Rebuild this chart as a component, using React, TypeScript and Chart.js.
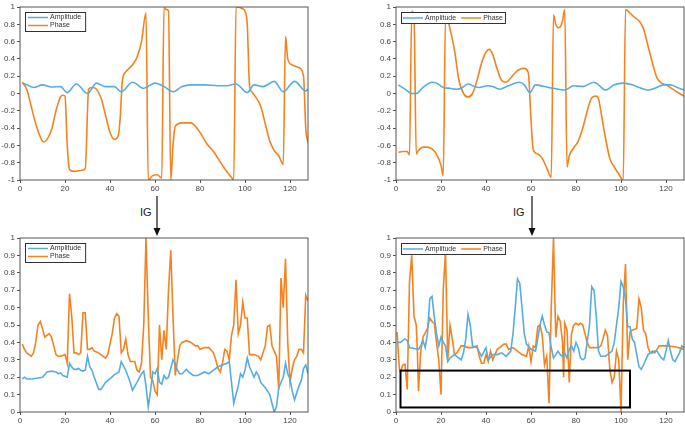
import { useEffect, useRef } from "react";
import { Chart, registerables } from "chart.js";

Chart.register(...registerables);

const BLUE = "#55ade2";
const ORANGE = "#f5821f";
const FONT = "'Liberation Sans', Arial, sans-serif";

type Pt = [number, number];

const xTicks = [0, 20, 40, 60, 80, 100, 120];

// top left: raw CSI
const tlAmplitude: Pt[] = [
  [1, 0.12], [3, 0.1], [6, 0.07], [10, 0.1], [14, 0.075], [18, 0.08], [21, 0.01], [25, 0.11], [30, 0.0],
  [34, 0.12], [38, 0.08], [42, 0.08], [45, 0.02], [50, 0.13], [55, 0.06], [60, 0.12], [64, 0.08], [68, 0.02],
  [72, 0.08], [76, 0.1], [82, 0.1], [88, 0.09], [92, 0.09], [96, 0.11], [101, 0.01], [104, 0.1], [108, 0.08],
  [113, 0.14], [117, 0.02], [122, 0.14], [127, 0.03], [128, 0.05],
];
const tlPhase: Pt[] = [
  [1, 0.13], [3, 0.05], [5, -0.15], [7, -0.35], [9, -0.5], [10.5, -0.56], [12, -0.53], [14, -0.42], [16, -0.2],
  [18, -0.04], [19, -0.02], [20, -0.03], [21, -0.6], [22, -0.88], [24, -0.9], [27, -0.89], [29, -0.87],
  [30.5, 0.05], [32, 0.07], [34, 0.05], [36, -0.05], [38, -0.25], [40, -0.45], [42, -0.53], [43.5, -0.5],
  [44.5, -0.3], [45.5, 0.15], [47, 0.25], [50, 0.33], [52, 0.42], [54, 0.6], [56, 0.93], [57, -1.0], [59, -0.95],
  [61, -0.94], [63, -0.98], [64, 1.0], [65, 0.97], [66, 0.96], [67, -1.0], [68, -0.6], [69, -0.38], [72, -0.34],
  [76, -0.34], [78, -0.38], [80, -0.45], [83, -0.58], [86, -0.67], [88, -0.75], [91, -0.87], [94, -0.97],
  [95, -1.0], [96, 1.0], [99, 0.98], [100, 0.95], [101, 0.8], [102, 0.1], [103, 0.02], [105, -0.05],
  [107, -0.15], [109, -0.35], [111, -0.55], [113, -0.66], [115, -0.72], [117, -0.82], [118, 0.66], [119, 0.4],
  [121, 0.33], [124, 0.3], [126, 0.2], [127, -0.4], [128, -0.57],
];

// top right: raw CSI
const trAmplitude: Pt[] = [
  [1, 0.1], [4, 0.05], [7, 0.0], [9, 0.0], [12, 0.07], [16, 0.13], [18, 0.12], [21, 0.07], [24, 0.06], [27, 0.05],
  [29, 0.06], [32, 0.11], [35, 0.08], [37, 0.07], [41, 0.09], [43, 0.08], [46, 0.05], [50, 0.09], [55, 0.13],
  [57, 0.1], [59.5, 0.01], [62, 0.1], [66, 0.08], [70, 0.06], [75, 0.04], [79, 0.09], [83, 0.08], [88, 0.13],
  [90, 0.1], [93, 0.04], [97, 0.1], [101, 0.12], [105, 0.1], [108, 0.07], [112, 0.04], [115, 0.06], [119, 0.1],
  [122, 0.1], [125, 0.07], [128, 0.04],
];
const trPhase: Pt[] = [
  [1, -0.68], [3, -0.67], [5, -0.67], [6, -0.71], [7, 0.95], [8, 0.9], [9, -0.7], [10, -0.66], [12, -0.62],
  [14, -0.62], [16, -0.64], [18, -0.7], [20, -0.83], [21, -0.95], [22, 0.88], [23, 0.85], [24, 0.75], [26, 0.5],
  [28, 0.15], [30, 0.0], [32, -0.04], [34, 0.0], [36, 0.15], [38, 0.35], [40, 0.48], [41.5, 0.51], [43, 0.45],
  [45, 0.28], [47, 0.15], [49, 0.13], [51, 0.18], [53, 0.24], [55, 0.28], [57, 0.29], [58.5, 0.26], [59, 0.2],
  [60, -0.3], [61, -0.65], [63, -0.7], [65, -0.75], [67, -0.86], [69, -0.97], [70, 0.91], [71, 0.8], [72, 0.76],
  [73, 0.77], [74, 0.84], [75, 0.97], [76, -0.85], [77, -0.72], [79, -0.63], [81, -0.55], [83, -0.4], [85, -0.2],
  [87, -0.05], [89, -0.03], [90, -0.06], [91, -0.2], [93, -0.5], [95, -0.75], [97, -0.85], [99, -0.93],
  [101, -1.0], [102, 0.97], [104, 0.93], [106, 0.88], [108, 0.84], [110, 0.75], [112, 0.55], [114, 0.35],
  [116, 0.18], [118, 0.12], [120, 0.1], [123, 0.05], [126, 0.0], [128, -0.03],
];

// bottom left: IG attribution
const blAmplitude: Pt[] = [
  [1, 0.19], [2, 0.2], [3, 0.19], [5, 0.19], [8, 0.195], [10, 0.2], [12, 0.23], [14, 0.235], [16, 0.23], [17, 0.22],
  [18, 0.225], [19, 0.21], [20, 0.205], [21, 0.2], [22, 0.28], [23, 0.26], [24, 0.245], [25, 0.245], [26, 0.25],
  [27, 0.24], [28, 0.235], [29, 0.24], [30, 0.32], [31, 0.26], [32, 0.24], [33, 0.2], [35, 0.13], [36, 0.13],
  [38, 0.17], [40, 0.19], [42, 0.215], [44, 0.23], [45, 0.29], [47, 0.24], [49, 0.17], [50, 0.125], [52, 0.17],
  [54, 0.22], [55, 0.235], [56, 0.15], [57, 0.03], [58, 0.12], [59, 0.23], [60, 0.22], [61, 0.25], [62, 0.17],
  [63, 0.16], [64, 0.21], [65, 0.19], [66, 0.2], [68, 0.3], [69, 0.28], [70, 0.24], [71, 0.22], [72, 0.22],
  [74, 0.245], [75, 0.23], [77, 0.21], [79, 0.21], [82, 0.23], [84, 0.22], [86, 0.24], [88, 0.26], [90, 0.27],
  [92, 0.28], [93, 0.29], [94, 0.17], [95, 0.05], [97, 0.15], [98, 0.22], [99, 0.2], [100, 0.24], [101, 0.31],
  [102, 0.26], [103, 0.23], [104, 0.2], [105, 0.23], [106, 0.21], [107, 0.17], [109, 0.14], [111, 0.1],
  [113, 0.0], [114, 0.03], [115, 0.14], [117, 0.2], [118, 0.28], [119, 0.22], [120, 0.19], [121, 0.12],
  [122, 0.07], [124, 0.15], [125, 0.18], [126, 0.25], [127, 0.27], [128, 0.22],
];
const blPhase: Pt[] = [
  [1, 0.39], [2, 0.36], [3, 0.34], [4, 0.33], [5, 0.32], [6, 0.34], [7, 0.4], [8, 0.5], [9, 0.52], [10, 0.48],
  [11, 0.43], [12, 0.44], [13, 0.45], [14, 0.43], [15, 0.38], [16, 0.33], [17, 0.32], [18, 0.32], [20, 0.33],
  [21, 0.28], [22, 0.68], [23, 0.55], [24, 0.34], [25, 0.34], [26, 0.33], [27, 0.34], [28, 0.57], [29, 0.57],
  [30, 0.36], [31, 0.36], [32, 0.37], [33, 0.35], [35, 0.34], [37, 0.32], [38, 0.31], [39, 0.33], [41, 0.45],
  [42, 0.54], [43, 0.565], [44, 0.55], [45, 0.34], [46, 0.36], [47, 0.42], [48, 0.33], [49, 0.29], [50, 0.29],
  [51, 0.29], [52, 0.24], [53, 0.23], [54, 0.28], [55, 0.5], [56, 1.0], [57, 0.55], [58, 0.2], [59, 0.18],
  [60, 0.12], [61, 0.1], [62, 0.5], [63, 0.3], [64, 0.47], [65, 0.36], [66, 0.7], [67, 0.93], [68, 0.55],
  [69, 0.21], [70, 0.3], [71, 0.38], [72, 0.4], [74, 0.41], [76, 0.4], [78, 0.38], [79, 0.38], [80, 0.36],
  [82, 0.37], [84, 0.37], [86, 0.34], [87, 0.3], [88, 0.25], [89, 0.23], [90, 0.28], [91, 0.36], [92, 0.35],
  [93, 0.3], [94, 0.44], [95, 0.5], [96, 0.76], [97, 0.45], [98, 0.5], [99, 0.63], [100, 0.54], [101, 0.54],
  [102, 0.33], [104, 0.33], [106, 0.32], [107, 0.3], [109, 0.38], [110, 0.49], [111, 0.5], [112, 0.38],
  [113, 0.35], [114, 0.32], [115, 0.13], [116, 0.77], [117, 0.6], [118, 0.88], [119, 0.4], [120, 0.17],
  [121, 0.25], [122, 0.3], [123, 0.32], [124, 0.36], [125, 0.36], [126, 0.34], [127, 0.67], [128, 0.64],
];

// bottom right: IG attribution
const brAmplitude: Pt[] = [
  [1, 0.4], [2, 0.4], [3, 0.41], [4, 0.42], [5, 0.41], [6, 0.37], [8, 0.365], [10, 0.36], [11, 0.38], [12, 0.41],
  [13, 0.37], [14, 0.45], [15, 0.65], [16, 0.665], [17, 0.55], [18, 0.45], [19, 0.38], [20, 0.43], [21, 0.4],
  [22, 0.38], [23, 0.29], [24, 0.31], [26, 0.33], [28, 0.31], [29, 0.3], [30, 0.34], [31, 0.42], [32, 0.56],
  [33, 0.5], [34, 0.38], [36, 0.37], [38, 0.32], [40, 0.37], [41, 0.3], [43, 0.33], [45, 0.33], [47, 0.34],
  [49, 0.32], [51, 0.35], [52, 0.45], [53, 0.6], [54, 0.765], [55, 0.74], [56, 0.6], [57, 0.45], [58, 0.39],
  [60, 0.36], [62, 0.35], [63, 0.42], [64, 0.5], [65, 0.55], [66, 0.5], [67, 0.46], [68, 0.455], [69, 0.37],
  [70, 0.31], [71, 0.33], [72, 0.35], [73, 0.33], [74, 0.32], [75, 0.34], [76, 0.31], [77, 0.36], [78, 0.38],
  [79, 0.35], [80, 0.4], [81, 0.37], [82, 0.31], [83, 0.3], [84, 0.31], [86, 0.5], [87, 0.72], [88, 0.7],
  [89, 0.55], [90, 0.35], [91, 0.32], [93, 0.32], [94, 0.33], [96, 0.35], [97, 0.4], [99, 0.6], [100, 0.75],
  [101, 0.72], [102, 0.65], [103, 0.49], [104, 0.49], [105, 0.42], [106, 0.4], [107, 0.33], [108, 0.26],
  [109, 0.245], [110, 0.27], [112, 0.33], [113, 0.34], [114, 0.34], [115, 0.35], [116, 0.35], [117, 0.33],
  [118, 0.31], [119, 0.3], [120, 0.35], [121, 0.41], [122, 0.35], [123, 0.3], [124, 0.29], [126, 0.34],
  [127, 0.38], [128, 0.37],
];
const brPhase: Pt[] = [
  [0.5, 0.46], [1, 0.35], [1.5, 0.25], [2, 0.23], [3, 0.27], [4, 0.275], [4.5, 0.2], [5, 0.13], [6, 0.75],
  [7, 0.9], [8, 0.55], [9, 0.5], [9.5, 0.35], [10, 0.12], [11, 0.35], [12, 0.43], [14, 0.48], [15, 0.54],
  [16, 0.52], [17, 0.51], [18, 0.4], [19, 0.3], [20, 0.1], [21, 0.7], [22, 0.92], [23, 0.3], [24, 0.5],
  [25, 0.42], [26, 0.33], [27, 0.34], [29, 0.38], [30, 0.38], [32, 0.37], [34, 0.37], [36, 0.38], [37, 0.32],
  [38, 0.28], [39, 0.28], [40, 0.33], [41, 0.29], [42, 0.35], [43, 0.3], [45, 0.36], [47, 0.38], [48, 0.39],
  [49, 0.39], [50, 0.36], [52, 0.37], [54, 0.35], [56, 0.33], [58, 0.32], [59, 0.38], [60, 0.29], [61, 0.38],
  [62, 0.37], [63, 0.49], [64, 0.5], [65, 0.44], [66, 0.27], [67, 0.32], [68, 0.05], [69, 0.6], [70, 1.0],
  [71, 0.43], [72, 0.55], [73, 0.52], [74, 0.4], [74.5, 0.2], [75, 0.51], [76, 0.47], [77, 0.17], [78, 0.45],
  [79, 0.5], [80, 0.51], [81, 0.5], [82, 0.51], [83, 0.5], [84, 0.45], [85, 0.4], [86, 0.37], [88, 0.37],
  [90, 0.37], [91, 0.38], [92, 0.42], [93, 0.47], [94, 0.44], [95, 0.25], [96, 0.17], [97, 0.2], [98, 0.35],
  [99, 0.3], [100, 0.0], [101, 0.62], [102, 0.85], [103, 0.3], [104, 0.46], [105, 0.47], [107, 0.48],
  [108, 0.65], [109, 0.6], [110, 0.47], [111, 0.45], [112, 0.37], [113, 0.34], [114, 0.35], [115, 0.34],
  [116, 0.36], [117, 0.38], [120, 0.38], [124, 0.375], [128, 0.36],
];

// highlighted region in the bottom right panel, in data units
const boxX = [2, 104];
const boxY = [0.026, 0.238];

const toXY = (pts: Pt[]) => pts.map(([x, y]) => ({ x, y }));
const fmt = (v: number | string) => String(Math.round(Number(v) * 10) / 10);

const framePlugin = {
  id: "frame",
  afterDatasetsDraw(chart: any) {
    const { ctx, chartArea: a } = chart;
    ctx.save();
    ctx.strokeStyle = "#555";
    ctx.lineWidth = 1;
    ctx.strokeRect(a.left, a.top, a.right - a.left, a.bottom - a.top);
    ctx.restore();
  },
};

const boxPlugin = {
  id: "markBox",
  afterDatasetsDraw(chart: any, _args: any, opts: any) {
    if (!opts || !opts.x) return;
    const { ctx, scales } = chart;
    const x0 = scales.x.getPixelForValue(opts.x[0]);
    const x1 = scales.x.getPixelForValue(opts.x[1]);
    const y0 = scales.y.getPixelForValue(opts.y[1]);
    const y1 = scales.y.getPixelForValue(opts.y[0]);
    ctx.save();
    ctx.strokeStyle = "#000";
    ctx.lineWidth = 2;
    ctx.strokeRect(x0, y0, x1 - x0, y1 - y0);
    ctx.restore();
  },
};

// boxed legend in the upper left corner of the plot area
const legendPlugin = {
  id: "boxLegend",
  afterDraw(chart: any, _args: any, opts: any) {
    const { ctx, chartArea: a } = chart;
    const ds = chart.data.datasets;
    const x0 = a.left + 5;
    const y0 = a.top + 5;
    ctx.save();
    ctx.font = `7px ${FONT}`;
    ctx.textBaseline = "middle";
    const items: { lx: number; ly: number; d: any }[] = [];
    let cx = x0 + 2;
    let maxW = 0;
    ds.forEach((d: any, i: number) => {
      const tw = ctx.measureText(d.label).width;
      if (opts.horizontal) {
        items.push({ lx: cx, ly: y0 + 6, d });
        cx += 20 + 2 + tw + 5;
      } else {
        items.push({ lx: x0 + 3, ly: y0 + 5.5 + i * 8, d });
        maxW = Math.max(maxW, 3 + 20 + 2 + tw + 4);
      }
    });
    const w = opts.horizontal ? cx - x0 - 3 : maxW;
    const h = opts.horizontal ? 11 : 19;
    ctx.fillStyle = "#fff";
    ctx.fillRect(x0, y0, w, h);
    ctx.strokeStyle = "#333";
    ctx.lineWidth = 1;
    ctx.strokeRect(x0 + 0.5, y0 + 0.5, w, h);
    items.forEach(({ lx, ly, d }) => {
      ctx.strokeStyle = d.borderColor;
      ctx.lineWidth = 1.5;
      ctx.beginPath();
      ctx.moveTo(lx, ly);
      ctx.lineTo(lx + 20, ly);
      ctx.stroke();
      ctx.fillStyle = "#333";
      ctx.fillText(d.label, lx + 22, ly);
    });
    ctx.restore();
  },
};

type PanelProps = {
  amplitude: Pt[];
  phase: Pt[];
  yMin: number;
  yStep: number;
  smooth: boolean;
  horizontal: boolean;
  padRight: number;
  box?: boolean;
  left: number;
  top: number;
  width: number;
  height: number;
};

function Panel(p: PanelProps) {
  const ref = useRef<HTMLCanvasElement>(null);

  useEffect(() => {
    if (!ref.current) return;
    const line = (label: string, pts: Pt[], color: string) => ({
      label,
      data: toXY(pts),
      borderColor: color,
      backgroundColor: color,
      borderWidth: 1.6,
      pointRadius: 0,
      tension: p.smooth ? 0.4 : 0,
      cubicInterpolationMode: p.smooth ? ("monotone" as const) : ("default" as const),
    });
    const tickFont = { family: FONT, size: 8 };
    const chart = new Chart(ref.current, {
      type: "line",
      data: {
        datasets: [line("Amplitude", p.amplitude, BLUE), line("Phase", p.phase, ORANGE)],
      },
      options: {
        animation: false,
        responsive: false,
        layout: { padding: { top: 7, right: p.padRight, left: 0, bottom: 0 } },
        plugins: {
          legend: { display: false },
          tooltip: { enabled: false },
          boxLegend: { horizontal: p.horizontal },
          markBox: p.box ? { x: boxX, y: boxY } : {},
        } as any,
        scales: {
          x: {
            type: "linear",
            min: 0,
            max: 128,
            afterFit: (s: any) => { s.height = 15; },
            afterBuildTicks: (s: any) => { s.ticks = xTicks.map((value) => ({ value })); },
            ticks: { color: "#444", font: tickFont, padding: 1, maxRotation: 0, autoSkip: false },
            grid: { drawOnChartArea: false, tickLength: 3, color: "#555" },
            border: { display: false },
          },
          y: {
            min: p.yMin,
            max: 1,
            afterFit: (s: any) => { s.width = 20; },
            ticks: { stepSize: p.yStep, color: "#444", font: tickFont, padding: 2, callback: fmt },
            grid: { drawOnChartArea: false, tickLength: 3, color: "#555" },
            border: { display: false },
          },
        },
      },
      plugins: [framePlugin, boxPlugin, legendPlugin],
    });
    return () => chart.destroy();
  }, []);

  return (
    <canvas
      ref={ref}
      width={p.width}
      height={p.height}
      style={{ position: "absolute", left: p.left, top: p.top, width: p.width, height: p.height }}
    />
  );
}

function Arrow({ x }: { x: number }) {
  return (
    <svg style={{ position: "absolute", left: x - 5, top: 195, width: 10, height: 42 }}>
      <line x1={5} y1={1} x2={5} y2={36} stroke="#111" strokeWidth={1.2} />
      <polygon points="1.5,33 8.5,33 5,41" fill="#111" />
    </svg>
  );
}

const igStyle = {
  position: "absolute" as const,
  top: 206,
  fontFamily: FONT,
  fontSize: 11,
  color: "#222",
};

export default function App() {
  return (
    <div style={{ position: "absolute", left: 0, top: 0, width: 685, height: 427, background: "#fff" }}>
      <Panel amplitude={tlAmplitude} phase={tlPhase} yMin={-1} yStep={0.2} smooth horizontal={false}
        padRight={4} left={0} top={0} width={312} height={195} />
      <Panel amplitude={trAmplitude} phase={trPhase} yMin={-1} yStep={0.2} smooth horizontal
        padRight={1} left={376} top={0} width={309} height={195} />
      <Panel amplitude={blAmplitude} phase={blPhase} yMin={0} yStep={0.1} smooth={false} horizontal={false}
        padRight={4} left={0} top={231} width={312} height={196} />
      <Panel amplitude={brAmplitude} phase={brPhase} yMin={0} yStep={0.1} smooth={false} horizontal box
        padRight={1} left={376} top={231} width={309} height={196} />
      <div style={{ ...igStyle, left: 140 }}>IG</div>
      <Arrow x={157} />
      <div style={{ ...igStyle, left: 513 }}>IG</div>
      <Arrow x={532} />
    </div>
  );
}
